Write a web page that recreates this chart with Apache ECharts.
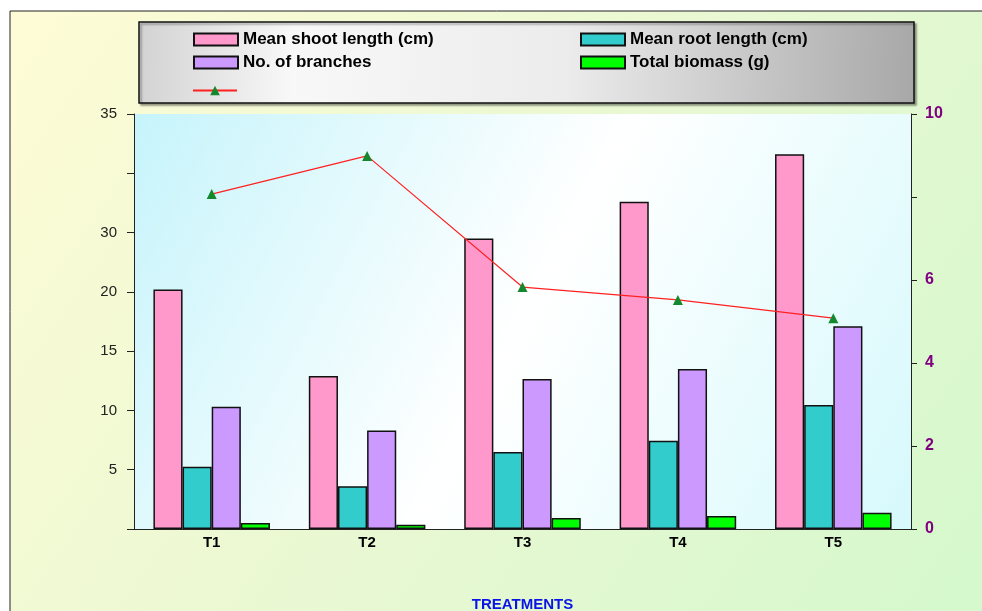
<!DOCTYPE html>
<html>
<head>
<meta charset="utf-8">
<script src="https://cdn.jsdelivr.net/npm/echarts@6/dist/echarts.min.js"></script>
<style>
  html, body { margin: 0; padding: 0; background: #fff; }
  #chart { width: 982px; height: 611px; }
</style>
</head>
<body>
<div id="chart"></div>
<script>
// data
const treatments = ['T1', 'T2', 'T3', 'T4', 'T5'];
const shootLength = [20.2, 12.9, 24.5, 27.6, 31.6];
const rootLength = [5.25, 3.6, 6.5, 7.45, 10.45];
const branches = [10.3, 8.3, 12.65, 13.5, 17.1];
const biomass = [0.5, 0.35, 0.93, 1.1, 1.38];
const lineValues = [8.07, 8.99, 5.83, 5.52, 5.08];

// tick labels as printed (left axis 0..35 step 5, right axis 0..10 step 2)
const leftTickLabels = ['', '5', '10', '15', '20', '30', '', '35'];
const rightTickLabels = ['0', '2', '4', '6', '', '10'];

const chart = echarts.init(document.getElementById('chart'));

const barBorder = { borderColor: '#111', borderWidth: 1.5 };
const legendFont = { fontFamily: 'Liberation Sans', fontWeight: 'bold', fontSize: 17, color: '#000' };

// one legend per entry so they sit in two columns like the original
const legendSpots = [
  { name: 'Mean shoot length (cm)', left: 193, top: 31, icon: 'rect' },
  { name: 'Mean root length (cm)', left: 580, top: 31, icon: 'rect' },
  { name: 'No. of branches', left: 193, top: 54, icon: 'rect' },
  { name: 'Total biomass (g)', left: 580, top: 54, icon: 'rect' },
  { name: ' ', left: 192, top: 82 }
];

const option = {
  backgroundColor: '#fff',
  animation: false,
  graphic: [
    {
      type: 'rect', z: -10,
      shape: { x: 10, y: 11, width: 1000, height: 700 },
      style: {
        fill: new echarts.graphic.LinearGradient(0, 0, 1, 1, [
          { offset: 0, color: '#fefcd6' },
          { offset: 0.5, color: '#e8f8d2' },
          { offset: 1, color: '#d2f8cc' }
        ]),
        stroke: '#222', lineWidth: 1
      }
    },
    {
      type: 'rect', z: 1,
      shape: { x: 139, y: 22, width: 775, height: 81 },
      style: {
        fill: new echarts.graphic.LinearGradient(0, 0, 1, 0.3, [
          { offset: 0, color: '#d2d2d2' },
          { offset: 0.2, color: '#f8f8f8' },
          { offset: 0.55, color: '#ececec' },
          { offset: 1, color: '#a8a8a8' }
        ]),
        stroke: '#111', lineWidth: 1.5,
        shadowColor: 'rgba(0,0,0,0.35)', shadowOffsetX: 2, shadowOffsetY: 2, shadowBlur: 2
      }
    }
  ],
  legend: legendSpots.map(s => ({
    data: [s.icon ? { name: s.name, icon: s.icon } : s.name],
    left: s.left,
    top: s.top,
    padding: 0,
    itemWidth: 44,
    itemHeight: 12,
    z: 5,
    textStyle: legendFont
  })),
  grid: {
    left: 134, right: 71, top: 114, bottom: 82,
    containLabel: false,
    outerBoundsMode: 'none',
    show: true,
    borderWidth: 0,
    backgroundColor: new echarts.graphic.LinearGradient(0, 0, 1, 1, [
      { offset: 0, color: '#c6f4fb' },
      { offset: 0.5, color: '#ffffff' },
      { offset: 1, color: '#d6f9fc' }
    ])
  },
  xAxis: {
    type: 'category',
    data: treatments,
    axisLine: { lineStyle: { color: '#222', width: 1 } },
    axisTick: { length: 5, lineStyle: { color: '#222' } },
    axisLabel: {
      margin: 6,
      fontFamily: 'Liberation Sans', fontWeight: 'bold', fontSize: 15, color: '#000'
    },
    name: 'TREATMENTS',
    nameLocation: 'middle',
    nameGap: 68,
    nameTextStyle: { fontFamily: 'Liberation Sans', fontWeight: 'bold', fontSize: 15, color: '#0a14e6' }
  },
  yAxis: [
    {
      type: 'value', min: 0, max: 35, interval: 5,
      axisLine: { show: true, lineStyle: { color: '#222' } },
      axisTick: { show: true, length: 7, lineStyle: { color: '#222' } },
      splitLine: { show: false },
      axisLabel: {
        margin: 17,
        fontFamily: 'Liberation Sans', fontSize: 15, color: '#222',
        formatter: v => leftTickLabels[Math.round(v / 5)]
      }
    },
    {
      type: 'value', min: 0, max: 10, interval: 2,
      position: 'right',
      axisLine: { show: true, lineStyle: { color: '#222' } },
      axisTick: { show: true, length: 6, lineStyle: { color: '#222' } },
      splitLine: { show: false },
      axisLabel: {
        margin: 14,
        fontFamily: 'Liberation Sans', fontWeight: 'bold', fontSize: 16, color: '#800080',
        formatter: v => rightTickLabels[Math.round(v / 2)]
      }
    }
  ],
  series: [
    {
      name: 'Mean shoot length (cm)', type: 'bar', data: shootLength,
      barGap: '0%', barCategoryGap: '25%',
      itemStyle: Object.assign({ color: '#ff99cc' }, barBorder)
    },
    {
      name: 'Mean root length (cm)', type: 'bar', data: rootLength,
      itemStyle: Object.assign({ color: '#33cccc' }, barBorder)
    },
    {
      name: 'No. of branches', type: 'bar', data: branches,
      itemStyle: Object.assign({ color: '#cc99ff' }, barBorder)
    },
    {
      name: 'Total biomass (g)', type: 'bar', data: biomass,
      itemStyle: Object.assign({ color: '#00ff00' }, barBorder)
    },
    {
      name: ' ', type: 'line', yAxisIndex: 1, data: lineValues,
      symbol: 'triangle', symbolSize: 10,
      itemStyle: { color: '#13882c' },
      lineStyle: { color: '#ff2020', width: 1.2 },
      z: 4
    }
  ]
};

chart.setOption(option);
</script>
</body>
</html>
